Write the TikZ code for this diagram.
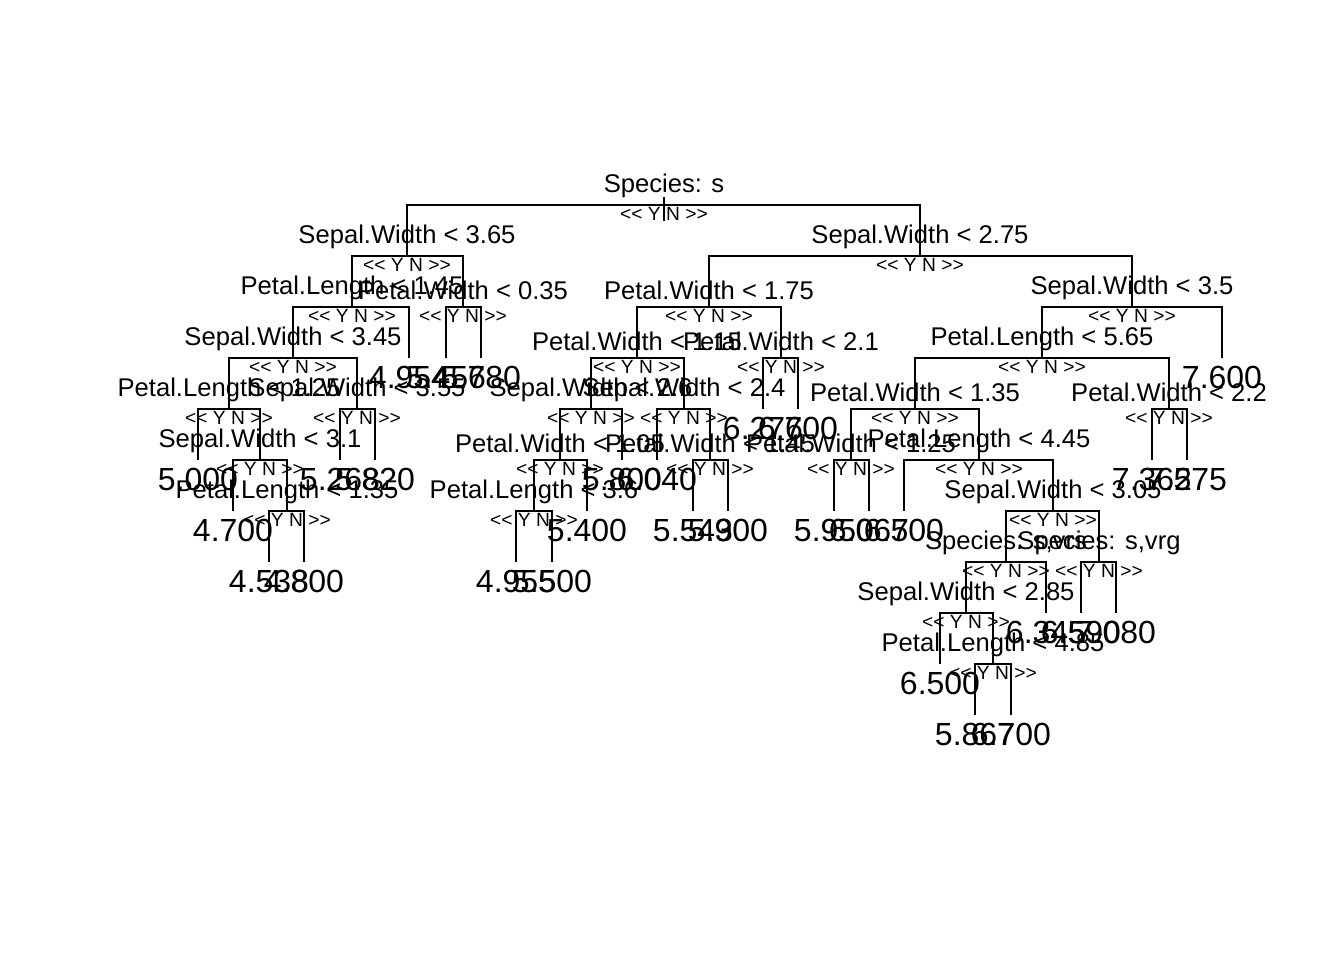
\documentclass[tikz,border=0pt]{standalone}
\usepackage{fontspec}
\setmainfont{Liberation Sans}
\usetikzlibrary{positioning}

\begin{document}
\begin{tikzpicture}[
    x=0.375pt, y=-0.375pt,
    edge/.style     = {line width=0.9pt},
    splitlab/.style = {inner sep=0pt, font=\fontsize{9.6}{11.5}\selectfont},
    yn/.style       = {inner sep=0pt, font=\fontsize{7.2}{8.6}\selectfont},
    leafval/.style  = {inner sep=0pt, font=\fontsize{12}{14.4}\selectfont}
]
\useasboundingbox (0,0) rectangle (1344,960);

% --- Hladiny stromu: y souradnice vodorovnych car ------------------------
\def\yA{205}\def\yB{256}\def\yC{307}\def\yD{358}\def\yE{409}\def\yF{460}
\def\yG{511}\def\yH{562}\def\yI{613}\def\yJ{664}\def\yK{715}
\def\yn{<{}< Y N >{}>}

% --- Vetveni (uzel = bod na vodorovne care) ------------------------------
\coordinate (nRoot) at (664,\yA);
\coordinate (nSWa) at (407,\yB);   \coordinate (nSWb) at (920,\yB);
\coordinate (nPLa) at (352,\yC);   \coordinate (nPWa) at (463,\yC);
\coordinate (nPWb) at (709,\yC);   \coordinate (nSWc) at (1132,\yC);
\coordinate (nSWd) at (293,\yD);   \coordinate (nPWc) at (637,\yD);
\coordinate (nPWd) at (781,\yD);   \coordinate (nPLb) at (1042,\yD);
\coordinate (nPLc) at (229,\yE);   \coordinate (nSWe) at (357,\yE);
\coordinate (nSWf) at (591,\yE);   \coordinate (nSWg) at (684,\yE);
\coordinate (nPWe) at (915,\yE);   \coordinate (nPWf) at (1169,\yE);
\coordinate (nSWh) at (260,\yF);   \coordinate (nPWg) at (560,\yF);
\coordinate (nPWh) at (710,\yF);   \coordinate (nPWi) at (851,\yF);
\coordinate (nPLd) at (979,\yF);
\coordinate (nPLe) at (287,\yG);   \coordinate (nPLf) at (534,\yG);
\coordinate (nSWi) at (1053,\yG);
\coordinate (nSPa) at (1006,\yH);  \coordinate (nSPb) at (1099,\yH);
\coordinate (nSWj) at (966,\yI);
\coordinate (nPLg) at (993,\yJ);

% popisky vetveni (nad carou) a << Y N >> (pod carou)
\foreach \n/\t in {nRoot/{Species: s},
    nSWa/{Sepal.Width < 3.65}, nSWb/{Sepal.Width < 2.75},
    nPLa/{Petal.Length < 1.45}, nPWa/{Petal.Width < 0.35},
    nPWb/{Petal.Width < 1.75}, nSWc/{Sepal.Width < 3.5},
    nSWd/{Sepal.Width < 3.45}, nPWc/{Petal.Width < 1.15},
    nPWd/{Petal.Width < 2.1}, nPLb/{Petal.Length < 5.65},
    nPLc/{Petal.Length < 1.25}, nSWe/{Sepal.Width < 3.55},
    nSWf/{Sepal.Width < 2.6}, nSWg/{Sepal.Width < 2.4},
    nPWe/{Petal.Width < 1.35}, nPWf/{Petal.Width < 2.2},
    nSWh/{Sepal.Width < 3.1}, nPWg/{Petal.Width < 1.05},
    nPWh/{Petal.Width < 1.45}, nPWi/{Petal.Width < 1.25},
    nPLd/{Petal.Length < 4.45},
    nPLe/{Petal.Length < 1.35}, nPLf/{Petal.Length < 3.6},
    nSWi/{Sepal.Width < 3.05},
    nSPa/{Species: s,vrs}, nSPb/{Species: s,vrg},
    nSWj/{Sepal.Width < 2.85}, nPLg/{Petal.Length < 4.85}}
{
  \node[splitlab, above=2.6pt of \n] (\n t) {\t};
  \node[yn, below=0.5pt of \n] (\n yn) {\yn};
}

% --- Listy (konec svisle cary + hodnota) ---------------------------------
\foreach \n/\x/\y/\v in {lf1/198/\yF/5.000, lf2/233/\yG/4.700,
    lf3/269/\yH/4.538, lf4/304/\yH/4.800, lf5/340/\yF/5.268,
    lf6/375/\yF/5.820, lf7/409/\yD/4.954, lf8/446/\yD/5.456,
    lf9/481/\yD/5.780, lf10/516/\yH/4.955, lf11/552/\yH/5.500,
    lf12/587/\yG/5.400, lf13/622/\yF/5.800, lf14/657/\yF/6.040,
    lf15/693/\yG/5.543, lf16/728/\yG/5.900, lf17/763/\yE/6.276,
    lf18/798/\yE/6.700, lf19/834/\yG/5.950, lf20/869/\yG/6.067,
    lf21/904/\yG/6.500, lf22/940/\yJ/6.500, lf23/975/\yK/5.867,
    lf24/1011/\yK/6.700, lf25/1046/\yI/6.345, lf26/1081/\yI/6.590,
    lf27/1116/\yI/7.080, lf28/1152/\yF/7.362, lf29/1187/\yF/7.575,
    lf30/1222/\yD/7.600}
{
  \coordinate (\n) at (\x,\y);
  \node[leafval, below=3pt of \n] (\n v) {\v};
}

% --- Hrany: rodic -> potomek (vodorovne, pak svisle dolu) ----------------
\foreach \p/\c in {nRoot/nSWa, nRoot/nSWb,
    nSWa/nPLa, nSWa/nPWa, nPLa/nSWd, nPLa/lf7, nPWa/lf8, nPWa/lf9,
    nSWd/nPLc, nSWd/nSWe, nPLc/lf1, nPLc/nSWh, nSWh/lf2, nSWh/nPLe,
    nPLe/lf3, nPLe/lf4, nSWe/lf5, nSWe/lf6,
    nSWb/nPWb, nSWb/nSWc, nPWb/nPWc, nPWb/nPWd,
    nPWc/nSWf, nPWc/nSWg, nSWf/nPWg, nSWf/lf13, nPWg/nPLf, nPWg/lf12,
    nPLf/lf10, nPLf/lf11, nSWg/lf14, nSWg/nPWh, nPWh/lf15, nPWh/lf16,
    nPWd/lf17, nPWd/lf18,
    nSWc/nPLb, nSWc/lf30, nPLb/nPWe, nPLb/nPWf,
    nPWe/nPWi, nPWe/nPLd, nPWi/lf19, nPWi/lf20, nPLd/lf21, nPLd/nSWi,
    nSWi/nSPa, nSWi/nSPb, nSPa/nSWj, nSPa/lf25, nSWj/lf22, nSWj/nPLg,
    nPLg/lf23, nPLg/lf24, nSPb/lf26, nSPb/lf27, nPWf/lf28, nPWf/lf29}
  \draw[edge] (\p) -| (\c);

% koren: kratka svisla cara pres vodorovnou
\coordinate (rootTop) at (664,197);
\coordinate (rootBot) at (664,221);
\draw[edge] (rootTop) -- (rootBot);
\end{tikzpicture}
\end{document}
